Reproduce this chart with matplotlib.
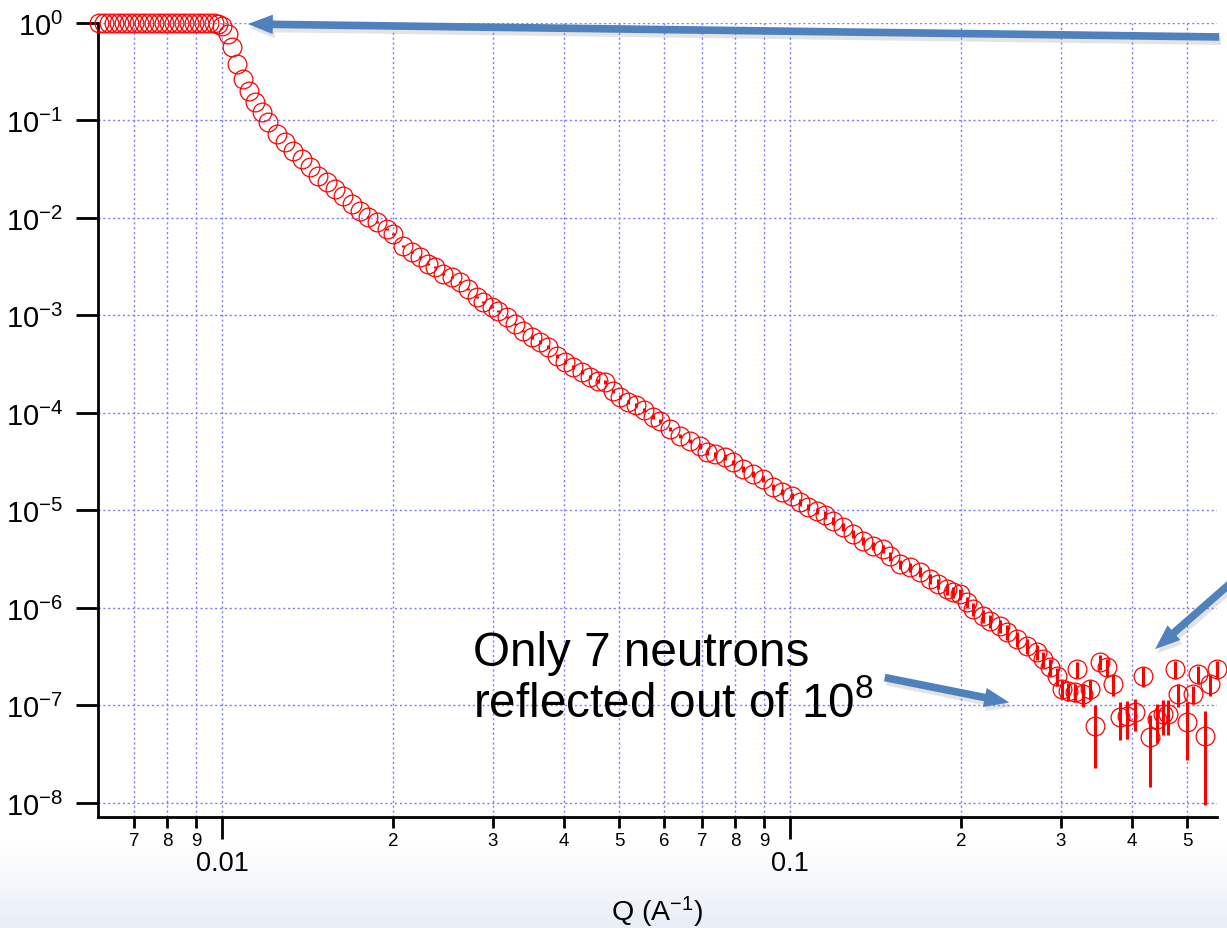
#!/usr/bin/env python3
"""Neutron reflectivity curve R(Q) on log-log axes."""

import sys
import numpy as np
import matplotlib
matplotlib.use('Agg')
import matplotlib.pyplot as plt
import matplotlib.patheffects as pe
from matplotlib.patches import FancyArrowPatch
from matplotlib.ticker import FixedLocator, FixedFormatter, NullLocator

# Total reflection plateau
q_flat = [0.006073, 0.006197, 0.006324, 0.006454, 0.006586, 0.006721, 0.006859,
          0.006999, 0.007142, 0.007289, 0.007438, 0.007590, 0.007745, 0.007904,
          0.008066, 0.008231, 0.008400, 0.008572, 0.008747, 0.008926, 0.009110,
          0.009296, 0.009486, 0.009681, 0.009840]
r_flat = [1.00, 1.01, 1.00, 1.00, 0.99, 1.01, 1.00, 1.00, 1.01, 1.00, 0.99, 1.00,
          1.01, 1.00, 1.00, 1.00, 1.01, 1.00, 0.99, 1.00, 1.00, 1.01, 1.00, 0.99,
          0.98]

# Fall-off above the critical edge
q_decay = [0.01000, 0.01025, 0.01041, 0.01063, 0.01089, 0.01115, 0.01143, 0.01176,
           0.01205, 0.01249, 0.01291, 0.01334, 0.01383, 0.01429, 0.01476, 0.01531,
           0.01581, 0.01633, 0.01694, 0.01750, 0.01807, 0.01875, 0.01952, 0.02000,
           0.02083, 0.02160, 0.02231, 0.02305, 0.02371, 0.02449, 0.02541, 0.02624,
           0.02710, 0.02812, 0.02882, 0.02989, 0.03062, 0.03176, 0.03280, 0.03388,
           0.03513, 0.03630, 0.03749, 0.03889, 0.04017, 0.04150, 0.04303, 0.04444,
           0.04592, 0.04723, 0.04879, 0.05020, 0.05186, 0.05357, 0.05534, 0.05739,
           0.05904, 0.06148, 0.06402, 0.06667, 0.06942, 0.07143, 0.07379, 0.07684,
           0.07937, 0.08266, 0.08607, 0.08963, 0.09334, 0.09681, 0.1008, 0.1041,
           0.1075, 0.1115, 0.1152, 0.1190, 0.1240, 0.1291, 0.1345, 0.1400,
           0.1458, 0.1500, 0.1562, 0.1627, 0.1694, 0.1764, 0.1822, 0.1890,
           0.1936, 0.1992, 0.2049, 0.2100, 0.2187, 0.2249, 0.2342, 0.2410,
           0.2510, 0.2615, 0.2722, 0.2790, 0.2870, 0.2952, 0.3013, 0.3087]
r_decay = [0.93, 0.77, 0.567, 0.380, 0.267, 0.201, 0.155, 0.122, 0.0966, 0.0727,
           0.0602, 0.0486, 0.0403, 0.0333, 0.0270, 0.0234, 0.0198, 0.0168, 0.0139,
           0.0118, 0.0102, 0.00910, 0.00771, 0.00686, 0.00516, 0.00448, 0.00398,
           0.00338, 0.00314, 0.00267, 0.00248, 0.00221, 0.00187, 0.00155, 0.00137,
           0.00122, 0.00111, 0.000966, 0.000819, 0.000694, 0.000602, 0.000535,
           0.000475, 0.000385, 0.000333, 0.000296, 0.000263, 0.000234, 0.000213,
           0.000208, 0.000168, 0.000146, 0.000130, 0.000121, 0.000107, 9.10e-5,
           8.28e-5, 6.86e-5, 5.81e-5, 5.16e-5, 4.59e-5, 3.98e-5, 3.79e-5, 3.54e-5,
           3.14e-5, 2.67e-5, 2.37e-5, 2.10e-5, 1.74e-5, 1.55e-5, 1.41e-5, 1.22e-5,
           1.09e-5, 9.89e-6, 8.99e-6, 7.80e-6, 6.78e-6, 5.74e-6, 4.86e-6, 4.33e-6,
           4.03e-6, 3.41e-6, 2.83e-6, 2.63e-6, 2.34e-6, 1.98e-6, 1.76e-6, 1.57e-6,
           1.46e-6, 1.39e-6, 1.15e-6, 9.77e-7, 8.28e-7, 7.36e-7, 6.53e-7, 5.68e-7,
           4.81e-7, 4.07e-7, 3.54e-7, 3.00e-7, 2.48e-7, 2.01e-7, 1.48e-7, 1.41e-7]
# relative error, percent
err_decay_pct = [0, 0, 0, 0, 0, 0, 0, 0, 0, 0,
                 1, 1, 1, 1, 1, 1, 1, 1, 1, 1,
                 2, 2, 2, 2, 2, 2, 2, 2, 2, 2,
                 3, 3, 3, 3, 3, 3, 3, 3, 3, 3,
                 4, 4, 4, 4, 4, 4, 4, 4, 4, 4,
                 5, 5, 5, 5, 5, 5, 5, 5, 5, 5,
                 6, 6, 6, 6, 6, 6, 7, 7, 7, 7,
                 8, 8, 8, 8, 9, 9, 9, 9, 10, 10,
                 10, 11, 11, 11, 12, 12, 12, 13, 13, 13,
                 14, 15, 15, 16, 16, 17, 17, 18, 18, 19,
                 20, 21, 22, 22]

# Background-limited tail
q_tail = [0.3176, 0.3201, 0.3280, 0.3375, 0.3443, 0.3513, 0.3615, 0.3704, 0.3811,
          0.3920, 0.4050, 0.4182, 0.4303, 0.4426, 0.4536, 0.4628, 0.4762, 0.4820,
          0.4999, 0.5123, 0.5228, 0.5378, 0.5488, 0.5646]
r_tail = [1.38e-7, 2.37e-7, 1.31e-7, 1.48e-7, 6.16e-8, 2.79e-7, 2.48e-7, 1.66e-7,
          7.62e-8, 7.80e-8, 8.57e-8, 2.01e-7, 4.75e-8, 7.27e-8, 8.18e-8, 8.18e-8,
          2.37e-7, 1.31e-7, 6.77e-8, 1.31e-7, 2.10e-7, 4.86e-8, 1.66e-7, 2.37e-7]
dr_tail = [3.0e-8, 4.5e-8, 3.5e-8, 3.5e-8, 3.9e-8, 5.0e-8, 5.0e-8, 4.0e-8,
           3.2e-8, 3.3e-8, 3.1e-8, 4.5e-8, 3.3e-8, 3.1e-8, 3.2e-8, 3.2e-8,
           4.8e-8, 3.5e-8, 4.0e-8, 2.7e-8, 4.5e-8, 3.9e-8, 4.0e-8, 5.0e-8]

y_ticks = [1e0, 1e-1, 1e-2, 1e-3, 1e-4, 1e-5, 1e-6, 1e-7, 1e-8]
y_labels = ['$10^{0}$', '$10^{-1}$', '$10^{-2}$', '$10^{-3}$', '$10^{-4}$',
            '$10^{-5}$', '$10^{-6}$', '$10^{-7}$', '$10^{-8}$']
x_major = [0.01, 0.1]
x_major_labels = ['0.01', '0.1']
x_minor = [0.007, 0.008, 0.009, 0.02, 0.03, 0.04, 0.05, 0.06, 0.07, 0.08,
           0.09, 0.2, 0.3, 0.4, 0.5]
x_minor_labels = ['7', '8', '9', '2', '3', '4', '5', '6', '7', '8', '9',
                  '2', '3', '4', '5']

ARROW_BLUE = '#4f81bd'
GRID_BLUE = '#7b7bff'


def arrow(fig, tail, head):
    """Thick blue callout arrow with a soft drop shadow."""
    a = FancyArrowPatch(tail, head, transform=fig.transFigure,
                        arrowstyle='simple,head_length=18,head_width=14,tail_width=5.5',
                        mutation_scale=1, color=ARROW_BLUE, lw=0)
    a.set_path_effects([pe.SimplePatchShadow(offset=(1.5, -3), shadow_rgbFace='0.5',
                                             alpha=0.22), pe.Normal()])
    fig.patches.append(a)


def main() -> int:
    plt.rcParams['font.family'] = ['Liberation Sans', 'DejaVu Sans']
    plt.rcParams['mathtext.fontset'] = 'custom'
    plt.rcParams['mathtext.rm'] = 'Liberation Sans'
    plt.rcParams['mathtext.it'] = 'Liberation Sans:italic'
    plt.rcParams['mathtext.bf'] = 'Liberation Sans:bold'

    fig = plt.figure(figsize=(12.27, 9.29), dpi=100)

    # pale blue fade along the bottom edge
    bg = fig.add_axes([0, 0, 1, 0.09], zorder=-5)
    grad = np.linspace(0, 1, 100).reshape(-1, 1)
    bg.imshow(grad, aspect='auto', cmap=matplotlib.colors.LinearSegmentedColormap.from_list(
        'fade', ['#e8edf6', '#ffffff']), extent=[0, 1, 0, 1], origin='lower')
    bg.axis('off')

    ax = fig.add_axes([98 / 1227, 111 / 929, 1119 / 1227, 794 / 929])
    ax.set_facecolor('none')

    q = q_flat + q_decay + q_tail
    r = r_flat + r_decay + r_tail
    dr = [0.0] * len(q_flat) \
        + [rv * p / 100.0 for rv, p in zip(r_decay, err_decay_pct)] + dr_tail

    cont = ax.errorbar(q, r, yerr=dr, fmt='o', mfc='none', mec='red', ms=13.5,
                       mew=0.9, ecolor='red', elinewidth=2.2, capsize=0, zorder=3)
    cont.lines[0].set_clip_on(False)
    for c in cont.lines[2]:
        c.set_clip_on(False)

    ax.set_xscale('log')
    ax.set_yscale('log')
    ax.set_xlim(0.006049, 0.5646)
    ax.set_ylim(7.18e-9, 1.0)

    ax.spines['top'].set_visible(False)
    ax.spines['right'].set_visible(False)
    for s in ('left', 'bottom'):
        ax.spines[s].set_linewidth(2)

    ax.yaxis.set_major_locator(FixedLocator(y_ticks))
    ax.yaxis.set_major_formatter(FixedFormatter(y_labels))
    ax.yaxis.set_minor_locator(NullLocator())
    ax.tick_params(axis='y', which='major', direction='out', length=16, width=2,
                   labelsize=21, pad=9)

    ax.xaxis.set_major_locator(FixedLocator(x_major))
    ax.xaxis.set_major_formatter(FixedFormatter(x_major_labels))
    ax.xaxis.set_minor_locator(FixedLocator(x_minor))
    ax.xaxis.set_minor_formatter(FixedFormatter(x_minor_labels))
    ax.tick_params(axis='x', which='major', direction='out', length=16, width=2,
                   labelsize=19.5, pad=8)
    ax.tick_params(axis='x', which='minor', direction='out', length=8, width=2,
                   labelsize=13.5, pad=3)

    ax.grid(True, which='both', axis='x', color=GRID_BLUE, lw=1.0, ls=(0, (1.5, 2)))
    ax.grid(True, which='major', axis='y', color=GRID_BLUE, lw=1.0, ls=(0, (1.5, 2)))
    ax.set_axisbelow(True)

    ax.set_xlabel('Q (A$^{-1}$)', fontsize=20.5, va='center')
    ax.xaxis.set_label_coords(0.4996, -0.1184)

    fig.text(473 / 1227, 1 - 679 / 929, 'Only 7 neutrons\nreflected out of 10$^{8}$',
             fontsize=34.3, ha='left', va='center', linespacing=1.12)

    arrow(fig, (0.9959, 0.9591), (0.1997, 0.9731))
    arrow(fig, (0.7188, 0.2702), (0.8248, 0.2422))
    arrow(fig, (1.004, 0.3724), (0.9397, 0.2982))

    fig.savefig('out.png', dpi=100)
    return 0


if __name__ == '__main__':
    sys.exit(main())
